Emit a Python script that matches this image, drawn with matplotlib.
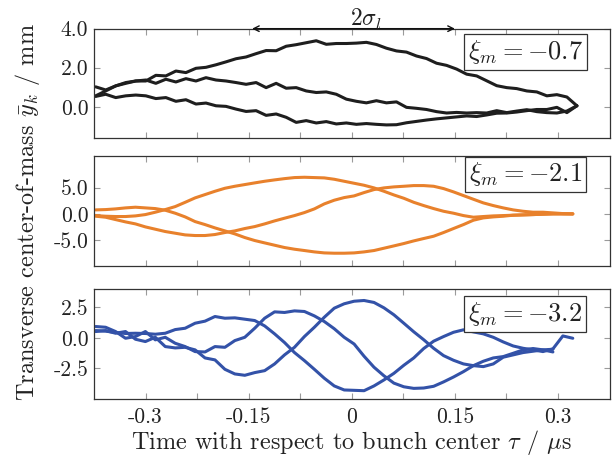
import numpy as np
import matplotlib.pyplot as plt

plt.rcParams['font.family'] = 'serif'
plt.rcParams['font.serif'] = ['cmr10']
plt.rcParams['mathtext.fontset'] = 'cm'
plt.rcParams['axes.unicode_minus'] = False

# time axis (us), one sample every ~0.0145 us
t_top = np.linspace(-0.3725, 0.3275, 49)
t_low = np.linspace(-0.3725, 0.3215, 49)

# xi_m = -0.7 (black)
top_a = [0.56, 0.81, 1.07, 1.24, 1.32, 1.32, 1.61, 1.58, 1.83, 1.75, 1.97, 2.02, 2.15, 2.30,
         2.46, 2.55, 2.72, 2.88, 2.87, 3.10, 3.18, 3.28, 3.38, 3.20, 3.24, 3.24, 3.26, 3.30,
         3.19, 3.00, 2.86, 2.80, 2.60, 2.47, 2.23, 2.12, 1.93, 1.67, 1.58, 1.33, 1.08, 0.98,
         0.93, 0.81, 0.76, 0.56, 0.62, 0.50, 0.05]
top_b = [1.02, 0.86, 1.07, 1.20, 1.32, 1.37, 1.20, 1.41, 1.27, 1.44, 1.32, 1.49, 1.37, 1.32,
         1.24, 1.15, 1.24, 0.98, 1.20, 0.95, 0.98, 0.81, 0.73, 0.76, 0.64, 0.39, 0.28, 0.20,
         0.31, 0.20, 0.25, -0.03, -0.08, -0.14, -0.25, -0.32, -0.29, -0.32, -0.30, -0.32,
         -0.20, -0.30, -0.22, -0.15, -0.25, -0.30, -0.32, -0.22, 0.05]
top_c = [0.53, 0.64, 0.47, 0.56, 0.60, 0.56, 0.42, 0.47, 0.28, 0.36, 0.14, 0.19, 0.05, 0.02,
         -0.12, -0.24, -0.20, -0.44, -0.37, -0.54, -0.80, -0.71, -0.83, -0.76, -0.88, -0.83,
         -0.90, -0.86, -0.90, -0.93, -0.92, -0.82, -0.75, -0.68, -0.62, -0.57, -0.52, -0.47,
         -0.50, -0.42, -0.33, -0.32, -0.27, -0.20, -0.14, -0.14, -0.03, -0.30, 0.05]

# xi_m = -2.1 (orange)
mid_a = [-0.32, -0.44, -0.50, -0.50, -0.38, -0.13, 0.32, 0.82, 1.39, 2.20, 3.04, 3.67, 4.30,
         4.87, 5.25, 5.57, 5.89, 6.20, 6.46, 6.70, 6.90, 6.96, 6.90, 6.84, 6.58, 6.20, 5.82,
         5.44, 4.94, 4.30, 3.60, 2.97, 2.20, 1.58, 1.01, 0.50, 0.13, -0.32, -0.63, -0.50,
         -0.38, -0.32, -0.25, -0.19, -0.13, -0.06, 0.0, 0.0, 0.0]
mid_b = [-0.44, -0.63, -1.08, -1.52, -1.90, -2.47, -2.91, -3.35, -3.67, -3.99, -4.11, -4.11,
         -3.92, -3.54, -3.23, -2.78, -2.41, -1.90, -1.33, -0.82, -0.32, 0.25, 0.95, 1.90,
         2.60, 3.10, 3.42, 4.05, 4.62, 4.94, 5.13, 5.25, 5.38, 5.38, 5.25, 4.81, 4.18, 3.48,
         2.78, 2.09, 1.58, 1.14, 0.76, 0.50, 0.32, 0.32, 0.19, 0.06, 0.0]
mid_c = [0.76, 0.82, 0.95, 1.14, 1.27, 1.14, 1.01, 0.70, 0.13, -0.57, -1.46, -2.03, -2.66,
         -3.23, -3.80, -4.49, -5.06, -5.51, -5.95, -6.39, -6.71, -6.96, -7.22, -7.41, -7.47,
         -7.47, -7.41, -7.22, -6.96, -6.52, -6.08, -5.63, -5.13, -4.68, -4.24, -3.54, -2.78,
         -2.03, -1.20, -0.76, -0.57, -0.44, -0.25, -0.19, -0.13, -0.06, 0.0, 0.0, 0.0]

# xi_m = -3.2 (blue)
nan = np.nan
bot_a = [0.60, 0.55, 0.44, 0.36, 0.38, 0.36, 0.30, 0.38, 0.68, 0.79, 1.20, 1.37, 1.75, 1.61,
         1.64, 1.53, 1.42, 0.98, 0.33, -0.38, -1.20, -1.86, -2.57, -3.30, -3.93, -4.26, -4.29,
         -4.32, -3.93, -3.44, -2.90, -2.24, -1.64, -0.87, -0.27, 0.11, 0.46, 0.66, 0.49, 0.33,
         0.05, -0.33, -0.66, -0.85, -0.98, -1.12, -0.90, 0.16, -0.03]
bot_b = [0.93, 0.87, 0.52, -0.03, 0.11, 0.52, -0.16, 0.05, -0.44, -0.71, -1.12, -1.15, -0.71,
         -0.77, -0.22, 0.05, 0.79, 1.61, 2.13, 2.08, 2.21, 2.16, 1.80, 1.34, 0.75, 0.05, -0.50,
         -1.50, -2.40, -3.10, -3.70, -4.00, -4.13, -4.10, -3.96, -3.60, -3.20, -2.76, -2.27,
         -1.91, -1.64, -1.53, -1.26, -0.98, -0.87, -0.98, -0.93, nan, nan]
bot_c = [0.52, 0.60, 0.38, 0.52, -0.11, -0.30, 0.05, -0.71, -0.82, -0.77, -0.98, -1.64, -1.80,
         -2.57, -2.95, -3.06, -2.84, -2.68, -2.13, -1.39, -0.77, 0.11, 0.87, 1.69, 2.43, 2.79,
         3.00, 3.06, 2.90, 2.46, 1.89, 1.20, 0.50, -0.15, -0.85, -1.45, -1.83, -2.13, -2.27,
         -2.35, -2.13, -1.58, -1.39, -1.20, -1.09, -0.98, -1.15, nan, nan]

xi_labels = [r'$\xi_m = -0.7$', r'$\xi_m = -2.1$', r'$\xi_m = -3.2$']
colors = ['#1e1e1e', '#e8812c', '#3352a8']
y_ticks = [[0.0, 2.0, 4.0], [-5.0, 0.0, 5.0], [-2.5, 0.0, 2.5]]
y_ticklabels = [['0.0', '2.0', '4.0'], ['-5.0', '0.0', '5.0'], ['-2.5', '0.0', '2.5']]
y_lims = [(-1.6, 4.0), (-9.9, 11.0), (-5.0, 4.0)]
x_ticks = [-0.3, -0.15, 0.0, 0.15, 0.3]
x_ticklabels = ['-0.3', '-0.15', '0', '0.15', '0.3']
x_minor = [-0.225, -0.075, 0.075, 0.225]

fig = plt.figure(figsize=(6.13, 4.58), dpi=100)
axes = [fig.add_axes([0.1533, 0.6987, 0.8411, 0.2387]),
        fig.add_axes([0.1533, 0.4192, 0.8411, 0.2402]),
        fig.add_axes([0.1533, 0.1288, 0.8411, 0.2402])]

series = [(t_top, [top_a, top_b, top_c]), (t_low, [mid_a, mid_b, mid_c]), (t_low, [bot_a, bot_b, bot_c])]
box_pos = [(0.8365, 0.787), (0.8365, 0.832), (0.8365, 0.775)]

for i, ax in enumerate(axes):
    t, curves = series[i]
    for y in curves:
        ax.plot(t, y, color=colors[i], lw=2.2, solid_capstyle='round')
    ax.set_xlim(-0.375, 0.375)
    ax.set_ylim(*y_lims[i])
    ax.set_yticks(y_ticks[i])
    ax.set_yticklabels(y_ticklabels[i])
    ax.set_xticks(x_ticks)
    ax.set_xticks(x_minor, minor=True)
    if i == 2:
        ax.set_xticklabels(x_ticklabels)
    else:
        ax.set_xticklabels([])
    ax.tick_params(which='both', direction='in', top=True, right=True, length=4,
                   width=0.8, color='#9a9a9a', labelsize=15.5, labelcolor='#222222')
    ax.tick_params(axis='x', pad=6)
    ax.tick_params(axis='y', pad=4)
    for s in ax.spines.values():
        s.set_color('#333333')
        s.set_linewidth(0.9)
    ax.text(box_pos[i][0], box_pos[i][1], xi_labels[i], transform=ax.transAxes,
            ha='center', va='center', fontsize=19, color='#222222',
            bbox=dict(boxstyle='square,pad=0.15', facecolor='white',
                      edgecolor='#333333', linewidth=0.9))

# 2 sigma_l marker above the first panel
axes[0].annotate('', xy=(-0.145, 4.0), xytext=(0.15, 4.0),
                 arrowprops=dict(arrowstyle='<->', lw=1.0, color='#111111',
                                 shrinkA=0, shrinkB=0),
                 annotation_clip=False)
axes[0].text(0.02, 4.14, r'$2\sigma_l$', ha='center', va='baseline', fontsize=17,
             color='#222222')

fig.text(0.5734, 0.0197, r'Time with respect to bunch center $\tau$ / $\mu$s',
         ha='center', va='baseline', fontsize=17.5, color='#222222')
fig.text(0.045, 0.537, r'Transverse center-of-mass $\bar{y}_k$ / mm', rotation=90,
         ha='center', va='center', fontsize=17.5, color='#222222')

fig.savefig('out.png', dpi=100)
